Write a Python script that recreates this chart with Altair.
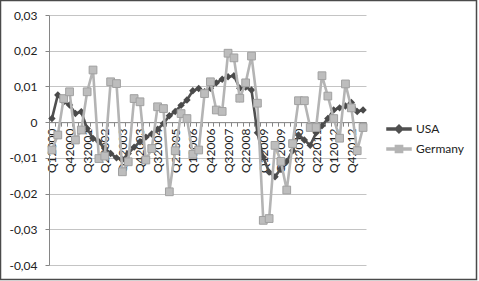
import json
import altair as alt
import pandas as pd

# ---------------- data ----------------
quarters = [f"Q{q}{y}" for y in range(2000, 2014) for q in range(1, 5)][:54]

usa = [0.001, 0.0076, 0.0057, 0.0048, 0.0024, 0.0029, -0.0018, -0.0046, -0.0055, -0.0074,
       -0.0088, -0.010, -0.0105, -0.0088, -0.007, -0.0055, -0.0042, -0.0033, -0.002, -0.0004,
       0.0018, 0.003, 0.0047, 0.0062, 0.0088, 0.0094, 0.0085, 0.0095, 0.011, 0.012,
       0.0127, 0.013, 0.0095, 0.0098, 0.009, -0.003, -0.0098, -0.014, -0.0153, -0.013,
       -0.011, -0.008, -0.0036, -0.005, -0.0065, -0.003, -0.001, 0.001, 0.0034, 0.004,
       0.0045, 0.0055, 0.003, 0.0034]

germany = [-0.0078, -0.0036, 0.0066, 0.0085, -0.005, -0.0022, 0.0085, 0.0146, -0.0102, -0.0095,
           0.0113, 0.0108, -0.0139, -0.0111, 0.0066, 0.0057, -0.0106, -0.0074, 0.0043, 0.0038,
           -0.0195, -0.008, 0.0024, 0.001, -0.009, -0.0078, 0.008, 0.0113, 0.0034, 0.003,
           0.0193, 0.018, 0.0067, 0.011, 0.0185, 0.0053, -0.0275, -0.027, -0.0065, -0.011,
           -0.019, -0.006, 0.006, 0.006, -0.0015, -0.0015, 0.013, 0.0073, 0.001, -0.0045,
           0.0107, 0.004, -0.008, -0.0015]

series_names = ["USA", "Germany"]
y_ticks = [-0.04, -0.03, -0.02, -0.01, 0, 0.01, 0.02, 0.03]

rows = []
for name, vals in zip(series_names, [usa, germany]):
    for i, v in enumerate(vals):
        rows.append({"i": i, "quarter": quarters[i], "series": name, "value": v})
df = pd.DataFrame(rows)

# ---------------- layout ----------------
W, H = 317, 250
FONT = "Lato"
n = len(quarters)

x_scale = alt.Scale(domain=[-0.5, n - 0.5], nice=False, zero=False)
y_scale = alt.Scale(domain=[min(y_ticks), max(y_ticks)], nice=False, zero=False)
color_scale = alt.Scale(domain=series_names, range=["#505050", "#b4b4b4"])

zero_offset = -H * (0 - min(y_ticks)) / (max(y_ticks) - min(y_ticks))

label_expr = ("((datum.value + 0.5) % 3 == 0 && datum.value < " + str(n - 1) + ") ? "
              + json.dumps(quarters) + "[datum.value + 0.5] : ''")

x_axis = alt.Axis(
    values=[k - 0.5 for k in range(n + 1)],
    labelExpr=label_expr,
    labelAngle=-90,
    labelOffset=W / n / 2,
    labelPadding=2,
    tickSize=4,
    tickColor="#868686",
    domainColor="#868686",
    grid=False,
    offset=zero_offset,
    labelFont=FONT,
    labelFontSize=12,
    labelColor="#222222",
    labelOverlap=False,
    labelFlush=False,
    labelBound=False,
    title=None,
)

y_axis = alt.Axis(
    values=y_ticks,
    labelExpr="datum.value == 0 ? '0' : (datum.value < 0 ? '-' : '') + replace(format(abs(datum.value), '.2f'), '.', ',')",
    tickSize=4,
    tickColor="#868686",
    domainColor="#868686",
    gridColor="#c4c4c4",
    labelPadding=8,
    labelFont=FONT,
    labelFontSize=12,
    labelColor="#222222",
    title=None,
)

X = alt.X("i:Q", scale=x_scale, axis=x_axis)
Y = alt.Y("value:Q", scale=y_scale, axis=y_axis)

base = alt.Chart(df)

usa_sym = "M-1,-0.09L1,-0.09L1,0.09L-1,0.09Z M0,-0.33L0.33,0L0,0.33L-0.33,0Z"
ger_sym = "M-1,-0.09L1,-0.09L1,0.09L-1,0.09Z M-0.3,-0.3L0.3,-0.3L0.3,0.3L-0.3,0.3Z"

legend = alt.Legend(
    title=None, orient="none", legendX=337, legendY=101,
    symbolSize=576, rowPadding=0, padding=0, labelOffset=4,
    labelFont=FONT, labelFontSize=12, labelColor="#222222", symbolOpacity=1,
)

# legend-only layer (draws nothing, first so its legend settings win)
legend_layer = base.transform_filter("false").mark_point(filled=True, opacity=1).encode(
    x=X, y=Y,
    color=alt.Color("series:N", scale=color_scale, legend=legend),
    shape=alt.Shape("series:N", scale=alt.Scale(domain=series_names, range=[usa_sym, ger_sym]), legend=legend),
)

lines = base.mark_line(strokeWidth=2.6).encode(
    x=X, y=Y,
    color=alt.Color("series:N", scale=color_scale, legend=None),
    detail="series:N",
    order="i:Q",
)
usa_lines = lines.transform_filter("datum.series == 'USA'")
ger_lines = lines.transform_filter("datum.series == 'Germany'")

usa_pts = base.transform_filter("datum.series == 'USA'").mark_point(
    shape="diamond", filled=True, size=55, opacity=1, color="#4a4a4a"
).encode(x=X, y=Y)

ger_pts = base.transform_filter("datum.series == 'Germany'").mark_point(
    shape="square", filled=True, size=60, opacity=1, color="#bdbdbd",
    stroke="#a0a0a0", strokeWidth=1
).encode(x=X, y=Y)

frame = alt.Chart(alt.Data(values=[{}])).mark_rect(
    fill="transparent", stroke="#4a4a4a", strokeWidth=1.5
).encode(
    x=alt.value(-48.5), x2=alt.value(W + 113 - 2.5),
    y=alt.value(-14.5), y2=alt.value(H + 16 - 1.5),
)

chart = alt.layer(legend_layer, usa_lines, usa_pts, ger_lines, ger_pts, frame).properties(
    width=W, height=H,
    padding={"left": 49, "top": 15, "right": 113, "bottom": 16},
    autosize=alt.AutoSizeParams(type="none"),
    background="white",
).configure_view(strokeWidth=0)

chart.save("out.html", embed_options={"renderer": "svg", "actions": False})
